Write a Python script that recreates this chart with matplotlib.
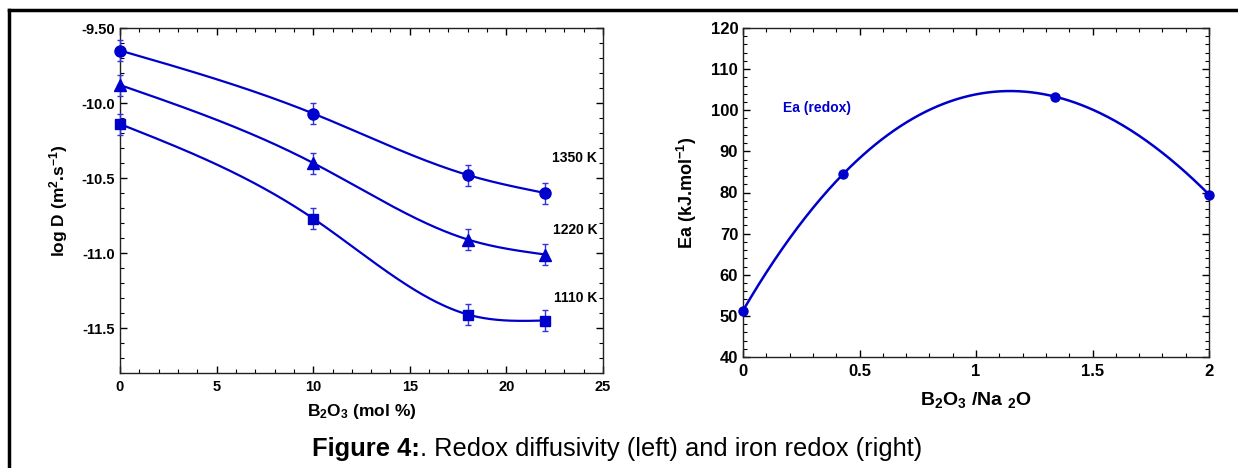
import numpy as np
import matplotlib
matplotlib.use("Agg")
import matplotlib.pyplot as plt
from matplotlib.ticker import MultipleLocator

plt.rcParams['font.family'] = ['Liberation Sans', 'DejaVu Sans']
plt.rcParams['mathtext.fontset'] = 'custom'
plt.rcParams['mathtext.rm'] = 'Liberation Sans:bold'
plt.rcParams['mathtext.bf'] = 'Liberation Sans:bold'
plt.rcParams['mathtext.it'] = 'Liberation Sans:bold'
plt.rcParams['mathtext.default'] = 'bf'

# ---- data (left) ----
b2o3_mol = [0, 10, 18, 22]
logD_1350 = [-9.65, -10.07, -10.48, -10.60]
logD_1220 = [-9.88, -10.40, -10.91, -11.01]
logD_1110 = [-10.14, -10.77, -11.41, -11.45]
logD_err = [0.07, 0.07, 0.07, 0.07]
temp_labels = ['1350 K', '1220 K', '1110 K']
label_y = [-10.37, -10.85, -11.30]

# ---- data (right) ----
ratio = [0.0, 0.43, 1.34, 2.0]
ea_redox = [51.3, 84.5, 103.3, 79.5]

BLUE = '#0000CC'


def natural_spline(x, y, n=300):
    x = np.asarray(x, float); y = np.asarray(y, float)
    m = len(x)
    h = np.diff(x)
    A = np.zeros((m, m)); r = np.zeros(m)
    A[0, 0] = 1; A[-1, -1] = 1
    for i in range(1, m - 1):
        A[i, i - 1] = h[i - 1]; A[i, i] = 2 * (h[i - 1] + h[i]); A[i, i + 1] = h[i]
        r[i] = 6 * ((y[i + 1] - y[i]) / h[i] - (y[i] - y[i - 1]) / h[i - 1])
    M = np.linalg.solve(A, r)
    xs = np.linspace(x[0], x[-1], n)
    ys = np.empty_like(xs)
    for k, xv in enumerate(xs):
        i = min(np.searchsorted(x, xv, side='right') - 1, m - 2)
        t1 = x[i + 1] - xv; t0 = xv - x[i]
        ys[k] = (M[i] * t1**3 + M[i + 1] * t0**3) / (6 * h[i]) \
            + (y[i] / h[i] - M[i] * h[i] / 6) * t1 + (y[i + 1] / h[i] - M[i + 1] * h[i] / 6) * t0
    return xs, ys


W, H = 1238, 468
fig = plt.figure(figsize=(W / 100, H / 100), dpi=100)

# outer frame lines (top, left)
fig.add_artist(plt.Line2D([9/W, 1.0], [1 - 10/H, 1 - 10/H], color='black', lw=2.5))
fig.add_artist(plt.Line2D([9/W, 9/W], [0.0, 1 - 10/H], color='black', lw=2.5))

ax1 = fig.add_axes([120/W, 1 - 373/H, (603-120)/W, (373-28)/H])
ax2 = fig.add_axes([743/W, 1 - 357/H, (1209-743)/W, (357-28)/H])

markers = ['o', '^', 's']
for ys, mk in zip([logD_1350, logD_1220, logD_1110], markers):
    xs_s, ys_s = natural_spline(b2o3_mol, ys)
    ax1.plot(xs_s, ys_s, color=BLUE, lw=1.6, zorder=2)
    ax1.errorbar(b2o3_mol, ys, yerr=logD_err, fmt=mk, color=BLUE, ms=8 if mk != 's' else 7.5,
                 ecolor='#3333DD', elinewidth=1.0, capsize=2.5, capthick=1.0, zorder=3,
                 clip_on=False)
for txt, yv in zip(temp_labels, label_y):
    ax1.text(24.7, yv, txt, ha='right', va='center', fontsize=10, fontweight='bold')

ax1.set_xlim(0, 25)
ax1.set_ylim(-11.8, -9.5)
ax1.xaxis.set_major_locator(MultipleLocator(5))
ax1.xaxis.set_minor_locator(MultipleLocator(1))
ax1.yaxis.set_minor_locator(MultipleLocator(0.1))
ax1.set_yticks([-11.5, -11.0, -10.5, -10.0, -9.5])
ax1.set_yticklabels(['-11.5', '-11.0', '-10.5', '-10.0', '-9.50'])
ax1.set_xlabel(r'B$_2$O$_3$ (mol %)', fontsize=12.5, fontweight='bold', labelpad=6)
ax1.set_ylabel(r'log D (m$^2$.s$^{-1}$)', fontsize=12.5, fontweight='bold', labelpad=8)

# right panel
coef = np.polyfit(ratio, ea_redox, 3)
xr = np.linspace(ratio[0], ratio[-1], 300)
ax2.plot(xr, np.polyval(coef, xr), color=BLUE, lw=1.8, zorder=2)
ax2.plot(ratio, ea_redox, 'o', color=BLUE, ms=6.5, zorder=3, clip_on=False)
ax2.text(0.17, 100.5, 'Ea (redox)', color=BLUE, fontsize=10, fontweight='bold', ha='left', va='center')
ax2.set_xlim(0, 2)
ax2.set_ylim(40, 120)
ax2.xaxis.set_minor_locator(MultipleLocator(0.1))
ax2.yaxis.set_major_locator(MultipleLocator(10))
ax2.yaxis.set_minor_locator(MultipleLocator(2))
ax2.set_xticks([0, 0.5, 1, 1.5, 2])
ax2.set_xticklabels(['0', '0.5', '1', '1.5', '2'])
ax2.set_xlabel(r'B$_2$O$_3$ /Na $_2$O', fontsize=14, fontweight='bold', labelpad=8)
ax2.set_ylabel(r'Ea (kJ.mol$^{-1}$)', fontsize=13, fontweight='bold', labelpad=8)

for ax, ls in ((ax1, 10.5), (ax2, 12)):
    for s in ax.spines.values():
        s.set_linewidth(1.0)
        s.set_color('#222222')
    ax.tick_params(which='both', direction='in', top=True, right=True, labelsize=ls)
    ax.tick_params(which='major', length=5, width=1.0)
    ax.tick_params(which='minor', length=3, width=0.8)
    for lab in ax.get_xticklabels() + ax.get_yticklabels():
        lab.set_fontweight('bold')
    ax.tick_params(axis='x', pad=5)

# caption: bold "Figure 4:" followed by regular text
cap_y = 1 - 449/H
t1 = fig.text(312/W, cap_y, 'Figure 4:', fontsize=18.4, fontweight='bold', ha='left', va='center')
fig.canvas.draw()
bb = t1.get_window_extent(renderer=fig.canvas.get_renderer())
fig.text(bb.x1 / W, cap_y, '. Redox diffusivity (left) and iron redox (right)', fontsize=18.4,
         ha='left', va='center')

fig.savefig('out.png', dpi=100)
